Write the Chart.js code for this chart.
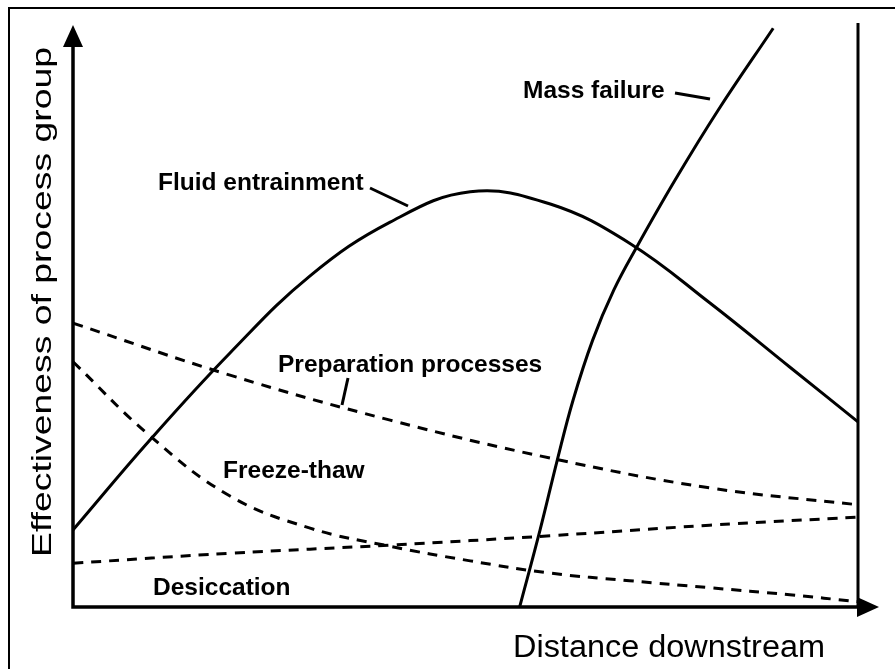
<!DOCTYPE html>
<html>
<head>
<meta charset="utf-8">
<script src="https://cdn.jsdelivr.net/npm/chart.js@4"></script>
<style>
  html, body { margin: 0; padding: 0; background: #fff; }
  #wrap { width: 895px; height: 669px; position: relative; }
</style>
</head>
<body>
<div id="wrap"><canvas id="Chart" width="895" height="669"></canvas></div>
<script>
// values, distance (0-100) vs effectiveness (0-100)
const fluidX = [0, 9.8, 20, 30.2, 40.4, 50.6, 60.8, 70.9, 81.1, 91.3, 100];
const fluidY = [13.2, 28.6, 43.5, 56.7, 65.9, 71.1, 69.0, 62.3, 52.1, 41.1, 31.7];

const massX = [56.9, 59.5, 61.7, 63.7, 66.2, 68.9, 71.8, 76.7, 82.2, 89.2];
const massY = [0, 13.2, 25.2, 35.4, 45.7, 54.3, 61.6, 73.1, 85.1, 99.1];

const prepX = [0, 20, 40.4, 60.8, 81.1, 100];
const prepY = [48.6, 39.7, 32.0, 25.5, 20.4, 17.5];

const freezeX = [0, 9.8, 20, 30.2, 40.4, 50.6, 60.8, 70.9, 81.1, 91.3, 100];
const freezeY = [42.0, 29.3, 19.0, 13.5, 10.4, 7.9, 5.8, 4.5, 3.3, 2.1, 0.9];

const desicX = [0, 20, 40.4, 60.8, 81.1, 100];
const desicY = [7.5, 9.2, 10.6, 12.2, 14.0, 15.4];

const seriesNames = ['Fluid entrainment', 'Mass failure', 'Preparation processes', 'Freeze-thaw', 'Desiccation'];

const xTitle = 'Distance downstream';
const yTitle = 'Effectiveness of process group';

function pts(xs, ys) {
    return xs.map((x, i) => ({ x: x, y: ys[i] }));
}

function series(label, xs, ys, dashed) {
    return {
        label: label,
        data: pts(xs, ys),
        borderColor: '#000',
        borderWidth: 3,
        borderDash: dashed ? [10, 8] : [],
        pointRadius: 0,
        fill: false,
        tension: 0.4,
    };
}

// text labels next to the curves, with their little leader lines
const curveLabels = [
    { text: 'Mass failure', x: 523, y: 98, lead: [675, 93, 710, 99] },
    { text: 'Fluid entrainment', x: 158, y: 190, lead: [370, 188, 408, 206] },
    { text: 'Preparation processes', x: 278, y: 372, lead: [348, 378, 342, 405] },
    { text: 'Freeze-thaw', x: 223, y: 478, lead: null },
    { text: 'Desiccation', x: 153, y: 595, lead: null },
];

const decorPlugin = {
    id: 'decor',
    afterDatasetsDraw(chart) {
        const ctx = chart.ctx;
        const a = chart.chartArea;
        ctx.save();
        ctx.strokeStyle = '#000';
        ctx.fillStyle = '#000';

        // outer frame
        ctx.lineWidth = 2;
        ctx.beginPath();
        ctx.moveTo(9, 669);
        ctx.lineTo(9, 8);
        ctx.lineTo(895, 8);
        ctx.stroke();

        // axes
        ctx.lineWidth = 3.5;
        ctx.beginPath();
        ctx.moveTo(a.left, 45);
        ctx.lineTo(a.left, a.bottom);
        ctx.lineTo(a.right, a.bottom);
        ctx.stroke();
        ctx.lineWidth = 3;
        ctx.beginPath();
        ctx.moveTo(a.right, a.top);
        ctx.lineTo(a.right, a.bottom);
        ctx.stroke();

        // arrow heads
        ctx.beginPath();
        ctx.moveTo(a.left, 25);
        ctx.lineTo(a.left - 10, 47);
        ctx.lineTo(a.left + 10, 47);
        ctx.closePath();
        ctx.fill();
        ctx.beginPath();
        ctx.moveTo(879, a.bottom);
        ctx.lineTo(a.right - 1, a.bottom - 10);
        ctx.lineTo(a.right - 1, a.bottom + 10);
        ctx.closePath();
        ctx.fill();

        // curve labels
        ctx.font = 'bold 24.5px "Liberation Sans", Arial, sans-serif';
        ctx.textAlign = 'left';
        ctx.textBaseline = 'alphabetic';
        ctx.lineWidth = 3;
        curveLabels.forEach(l => {
            ctx.fillText(l.text, l.x, l.y);
            if (l.lead) {
                ctx.beginPath();
                ctx.moveTo(l.lead[0], l.lead[1]);
                ctx.lineTo(l.lead[2], l.lead[3]);
                ctx.stroke();
            }
        });

        // axis titles
        ctx.font = '31px "Liberation Sans", Arial, sans-serif';
        let w = ctx.measureText(xTitle).width;
        ctx.save();
        ctx.translate(513, 657);
        ctx.scale(312 / w, 1);
        ctx.fillText(xTitle, 0, 0);
        ctx.restore();

        ctx.font = '28px "Liberation Sans", Arial, sans-serif';
        w = ctx.measureText(yTitle).width;
        ctx.save();
        ctx.translate(51, 557);
        ctx.rotate(-Math.PI / 2);
        ctx.scale(510 / w, 1);
        ctx.fillText(yTitle, 0, 0);
        ctx.restore();

        ctx.restore();
    },
};

const config = {
    type: 'line',
    data: {
        datasets: [
            series(seriesNames[0], fluidX, fluidY, false),
            series(seriesNames[1], massX, massY, false),
            series(seriesNames[2], prepX, prepY, true),
            series(seriesNames[3], freezeX, freezeY, true),
            series(seriesNames[4], desicX, desicY, true),
        ],
    },
    options: {
        responsive: false,
        animation: false,
        layout: { padding: { left: 73, right: 37, top: 23, bottom: 62 } },
        scales: {
            x: { type: 'linear', min: 0, max: 100, display: false },
            y: { type: 'linear', min: 0, max: 100, display: false },
        },
        plugins: {
            legend: { display: false },
            tooltip: { enabled: false },
        },
    },
    plugins: [decorPlugin],
};

const ctx = document.getElementById('Chart').getContext('2d');
const myChart = new Chart(ctx, config);
</script>
</body>
</html>
